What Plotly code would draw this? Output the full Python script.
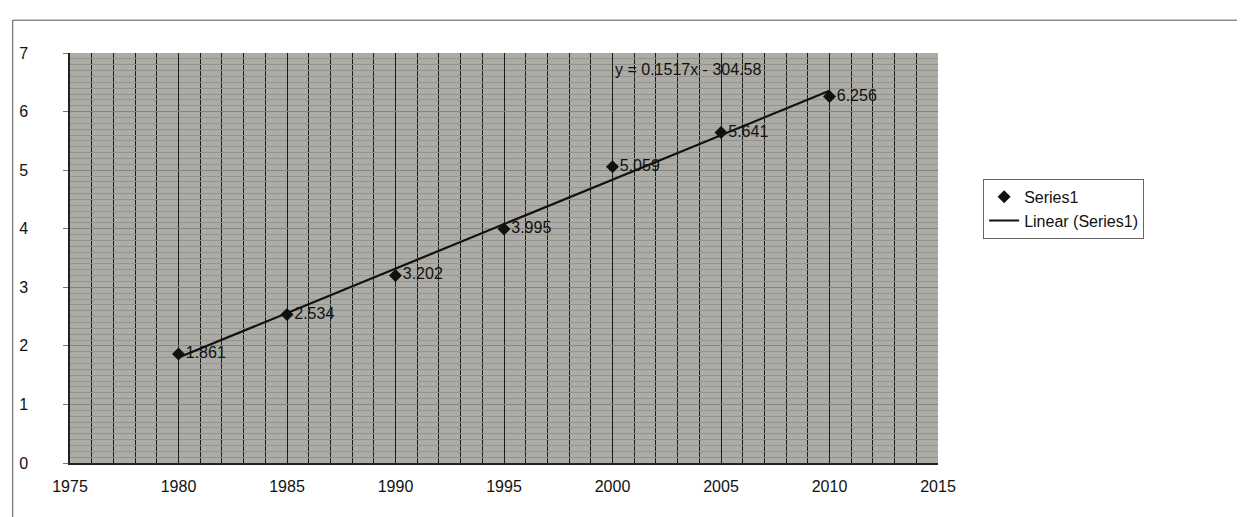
import numpy as np
import plotly.graph_objects as go

years = [1980, 1985, 1990, 1995, 2000, 2005, 2010]
values = [1.861, 2.534, 3.202, 3.995, 5.059, 5.641, 6.256]
value_labels = ["1.861", "2.534", "3.202", "3.995", "5.059", "5.641", "6.256"]
equation_text = "y = 0.1517x - 304.58"
x_ticks = [1975, 1980, 1985, 1990, 1995, 2000, 2005, 2010, 2015]
y_ticks = [0, 1, 2, 3, 4, 5, 6, 7]

slope, intercept = np.polyfit(years, values, 1)
trend_x = [years[0], years[-1]]
trend_y = [slope * x + intercept for x in trend_x]

FONT = "Liberation Sans, Arial, sans-serif"

fig = go.Figure()
fig.add_trace(go.Scatter(
    x=trend_x, y=trend_y, mode="lines", name="Linear (Series1)",
    line=dict(color="#111111", width=2.2),
))
fig.add_trace(go.Scatter(
    x=years, y=values, mode="markers+text", name="Series1",
    marker=dict(symbol="diamond", size=10, color="#111111"),
    text=value_labels, textposition="middle right",
    textfont=dict(family=FONT, size=16, color="#111111"),
))

fig.add_annotation(
    x=2003.5, y=6.72, xref="x", yref="y", text=equation_text, showarrow=False,
    font=dict(family=FONT, size=16, color="#111111"),
)

fig.add_shape(type="rect", xref="paper", yref="paper",
              x0=-0.066, x1=1.355, y0=-0.134, y1=1.08,
              line=dict(color="#555555", width=1), layer="below")

fig.update_layout(
    width=1245, height=517,
    margin=dict(l=62, r=315, t=45, b=62),
    paper_bgcolor="white",
    plot_bgcolor="#acaba5",
    font=dict(family=FONT, size=16, color="#111111"),
    legend=dict(
        x=1.052, y=0.62, xanchor="left", yanchor="middle",
        bordercolor="#666666", borderwidth=1, bgcolor="white",
        font=dict(family=FONT, size=16, color="#111111"),
        traceorder="reversed",
    ),
    xaxis=dict(
        range=[1975, 2015], tickvals=x_ticks, ticktext=[str(v) for v in x_ticks],
        showgrid=True, gridcolor="#1a1a1a", gridwidth=1.3,
        minor=dict(dtick=1, showgrid=True, gridcolor="#1a1a1a", gridwidth=1.3),
        showline=True, linecolor="#222222", linewidth=1.5,
        zeroline=False, ticks="", ticklabelstandoff=8,
    ),
    yaxis=dict(
        range=[0, 7], tickvals=y_ticks,
        showgrid=True, gridcolor="#85847f", gridwidth=1,
        minor=dict(dtick=0.1, showgrid=True, gridcolor="#93928d", gridwidth=1),
        showline=True, linecolor="#222222", linewidth=1.5,
        zeroline=False, ticks="outside", ticklen=5, tickcolor="#777777",
        ticklabelstandoff=32,
    ),
)

fig.write_html("out.html")
